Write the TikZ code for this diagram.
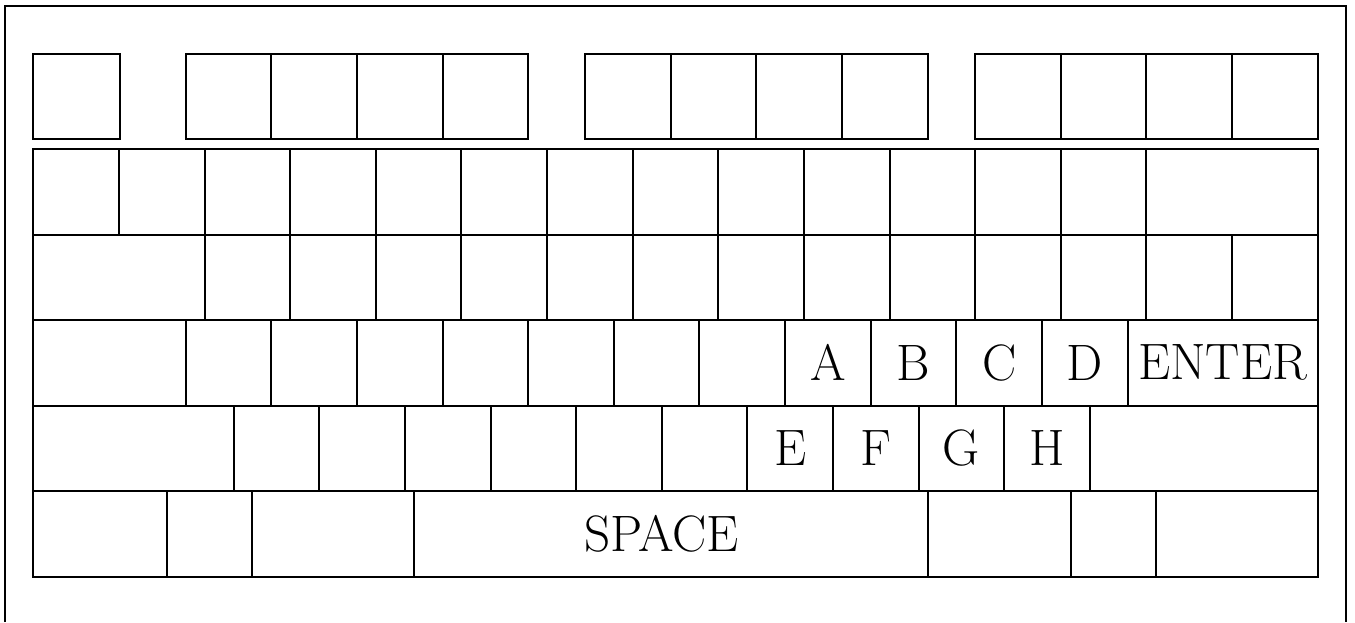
\documentclass[tikz,border=0pt]{standalone}
\tikzset{
  keyfont/.style={font=\fontsize{51.2}{60}\selectfont},
  kbkey/.style={draw, line width=2pt, anchor=north west, outer sep=0pt, inner sep=0pt, keyfont},
  frameline/.style={line width=2pt},
}
\newcommand\kbk[6]{\node[kbkey, minimum width=#4pt, minimum height=#5pt] (#1) at (#2,#3) {#6};}
\begin{document}
\begin{tikzpicture}[x=1pt,y=-1pt]
\useasboundingbox (0,0) rectangle (1355,622);
% outer frame (bottom edge lies outside the picture)
\draw[frameline] (5,622) -- (5,6) -- (1346,6) -- (1346,622);
% row 1: function keys
\kbk{esc}{33.3}{53.5}{86.3}{85.5}{}
\foreach \i in {0,...,3}{
  \pgfmathsetmacro\xa{185.7+\i*85.62}
  \pgfmathsetmacro\xb{585.2+\i*85.62}
  \pgfmathsetmacro\xc{975.2+\i*85.62}
  \kbk{fa\i}{\xa}{53.5}{85.62}{85.5}{}
  \kbk{fb\i}{\xb}{53.5}{85.62}{85.5}{}
  \kbk{fc\i}{\xc}{53.5}{85.62}{85.5}{}
}
% row 2: number row
\foreach \i in {0,...,12}{
  \pgfmathsetmacro\xa{33.3+\i*85.62}
  \kbk{n\i}{\xa}{149}{85.62}{85.5}{}
}
\kbk{bksp}{1146.36}{149}{171.24}{85.5}{}
% row 3: tab row
\kbk{tab}{33.3}{234.5}{171.24}{85.5}{}
\foreach \i in {0,...,12}{
  \pgfmathsetmacro\xa{204.54+\i*85.62}
  \kbk{t\i}{\xa}{234.5}{85.62}{85.5}{}
}
% row 4: caps row
\kbk{caps}{33.3}{320}{152.4}{85.5}{}
\foreach \i in {0,...,6}{
  \pgfmathsetmacro\xa{185.7+\i*85.62}
  \kbk{c\i}{\xa}{320}{85.62}{85.5}{}
}
\kbk{ka}{785.04}{320}{85.62}{85.5}{A}
\kbk{kb}{870.66}{320}{85.62}{85.5}{B}
\kbk{kc}{956.28}{320}{85.62}{85.5}{C}
\kbk{kd}{1041.9}{320}{85.62}{85.5}{D}
\kbk{enter}{1127.52}{320}{190.08}{85.5}{ENTER}
% row 5: shift row
\kbk{lshift}{33.3}{405.5}{200.4}{85.5}{}
\foreach \i in {0,...,5}{
  \pgfmathsetmacro\xa{233.7+\i*85.62}
  \kbk{s\i}{\xa}{405.5}{85.62}{85.5}{}
}
\kbk{ke}{747.42}{405.5}{85.62}{85.5}{E}
\kbk{kf}{833.04}{405.5}{85.62}{85.5}{F}
\kbk{kg}{918.66}{405.5}{85.62}{85.5}{G}
\kbk{kh}{1004.28}{405.5}{85.62}{85.5}{H}
\kbk{rshift}{1089.9}{405.5}{227.7}{85.5}{}
% row 6: bottom row
\kbk{b0}{33.3}{491}{133.7}{85.5}{}
\kbk{b1}{167}{491}{85.3}{85.5}{}
\kbk{b2}{252.3}{491}{162}{85.5}{}
\node[kbkey, minimum width=513.4pt, minimum height=85.5pt,
      label={[keyfont, xshift=-9.5pt]center:SPACE}] (space) at (414.3,491) {};
\kbk{b4}{927.7}{491}{143}{85.5}{}
\kbk{b5}{1070.7}{491}{85.6}{85.5}{}
\kbk{b6}{1156.3}{491}{161.3}{85.5}{}
\end{tikzpicture}
\end{document}
